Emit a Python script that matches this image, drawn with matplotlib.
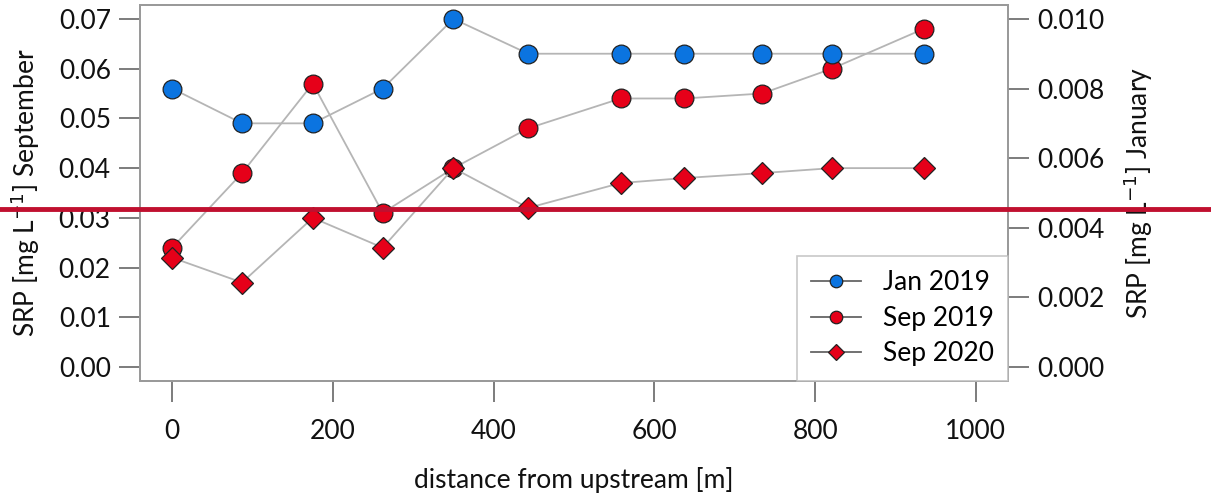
import matplotlib.pyplot as plt
import matplotlib.transforms as mtransforms
from matplotlib.lines import Line2D

# distance along the stream [m]
distance = [0, 87, 175, 262, 350, 443, 558, 637, 734, 821, 935]

# SRP values [mg/L]
jan_2019 = [0.008, 0.007, 0.007, 0.008, 0.010, 0.009, 0.009, 0.009, 0.009, 0.009, 0.009]
sep_2019 = [0.024, 0.039, 0.057, 0.031, 0.040, 0.048, 0.054, 0.054, 0.055, 0.060, 0.068]
sep_2020 = [0.022, 0.017, 0.030, 0.024, 0.040, 0.032, 0.037, 0.038, 0.039, 0.040, 0.040]

left_ticks = [0.00, 0.01, 0.02, 0.03, 0.04, 0.05, 0.06, 0.07]
right_ticks = [0.000, 0.002, 0.004, 0.006, 0.008, 0.010]
x_ticks = [0, 200, 400, 600, 800, 1000]

# horizontal reference line (in September units)
ref_level = 0.0318

plt.rcParams['font.family'] = ['Lato', 'DejaVu Sans']
plt.rcParams['font.size'] = 19

blue = '#0b74e0'
red = '#e60019'
line_grey = '#b5b5b5'
frame_grey = '#9a9a9a'

fig = plt.figure(figsize=(12.11, 4.97), dpi=100)
ax = fig.add_axes([0.1156, 0.2334, 0.7168, 0.7566])
ax2 = ax.twinx()

mk = dict(markeredgecolor='#222222', markeredgewidth=0.9, color=line_grey, linewidth=1.3)
ax.plot(distance, sep_2019, marker='o', markersize=13.5, markerfacecolor=red, **mk)
ax.plot(distance, sep_2020, marker='D', markersize=11.5, markerfacecolor=red, **mk)
ax2.plot(distance, jan_2019, marker='o', markersize=13.5, markerfacecolor=blue, **mk)

# R-style 4% padding
ax.set_xlim(-40, 1040)
ax.set_ylim(-0.0028, 0.0728)
ax2.set_ylim(-0.0004, 0.0104)

ax.set_xticks(x_ticks)
ax.set_xticklabels([str(t) for t in x_ticks])
ax.set_yticks(left_ticks)
ax.set_yticklabels(['%.2f' % t for t in left_ticks])
ax2.set_yticks(right_ticks)
ax2.set_yticklabels(['%.3f' % t for t in right_ticks])

for a in (ax, ax2):
    for s in a.spines.values():
        s.set_color(frame_grey)
        s.set_linewidth(1.3)
    a.tick_params(length=15, width=1.2, color='#666666', pad=6, labelcolor='#111111')
ax.tick_params(axis='x', pad=12)

ax.set_xlabel('distance from upstream [m]', labelpad=17, color='#111111')
ax.set_ylabel('SRP [mg L$^{-1}$] September', labelpad=12, color='#111111')
ax2.set_ylabel('SRP [mg L$^{-1}$] January', rotation=90, labelpad=12, color='#111111')

leg_style = dict(markeredgecolor='#222222', markeredgewidth=0.9, color='#666666', linewidth=1.3)
handles = [
    Line2D([], [], marker='o', markersize=9, markerfacecolor=blue, **leg_style),
    Line2D([], [], marker='o', markersize=9, markerfacecolor=red, **leg_style),
    Line2D([], [], marker='D', markersize=8, markerfacecolor=red, **leg_style),
]
leg = ax2.legend(handles, ['Jan 2019', 'Sep 2019', 'Sep 2020'], loc='lower right',
                 bbox_to_anchor=(1.0, 0.0), borderaxespad=0, frameon=True, fancybox=False,
                 handlelength=1.9, handletextpad=0.8, labelspacing=0.4, borderpad=0.55)
leg.get_frame().set_edgecolor('#bbbbbb')
leg.get_frame().set_linewidth(1.2)

# red line across the whole figure
trans = mtransforms.blended_transform_factory(fig.transFigure, ax.transData)
fig.add_artist(Line2D([0, 1], [ref_level, ref_level], transform=trans,
                      color='#c0102f', linewidth=3.5, zorder=10))

fig.savefig('out.png', dpi=100)
